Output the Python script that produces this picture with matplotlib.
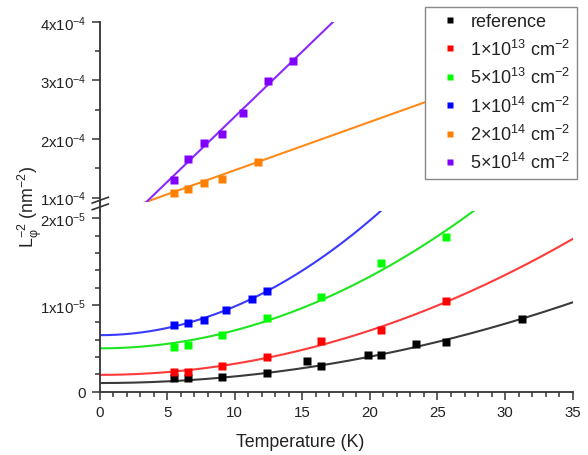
import numpy as np
import matplotlib
matplotlib.use("Agg")
import matplotlib.pyplot as plt
from matplotlib.lines import Line2D

plt.rcParams['font.family'] = ['Liberation Sans', 'DejaVu Sans']
plt.rcParams['mathtext.fontset'] = 'custom'
plt.rcParams['mathtext.rm'] = 'Liberation Sans'
plt.rcParams['mathtext.it'] = 'Liberation Sans:italic'
plt.rcParams['mathtext.bf'] = 'Liberation Sans:bold'
plt.rcParams['mathtext.default'] = 'regular'

# ---------------- data ----------------
labels = ['reference', '1×10$^{13}$ cm$^{-2}$', '5×10$^{13}$ cm$^{-2}$',
          '1×10$^{14}$ cm$^{-2}$', '2×10$^{14}$ cm$^{-2}$', '5×10$^{14}$ cm$^{-2}$']
marker_colors = ['#000000', '#ff0000', '#00ff00', '#0000ff', '#ff8000', '#8000ff']
line_colors = ['#3a3a3a', '#ff3a3a', '#1ee61e', '#3a3aff', '#ff8a1a', '#8a2aff']

T_ref = [5.51, 6.57, 9.08, 12.41, 15.35, 16.36, 19.88, 20.82, 23.41, 25.63, 31.23]
y_ref = [1.56e-6, 1.56e-6, 1.71e-6, 2.21e-6, 3.52e-6, 2.97e-6, 4.21e-6, 4.21e-6,
         5.51e-6, 5.74e-6, 8.44e-6]

T_1e13 = [5.51, 6.57, 9.08, 12.41, 16.36, 20.82, 25.63]
y_1e13 = [2.28e-6, 2.28e-6, 2.91e-6, 4.06e-6, 5.80e-6, 7.09e-6, 10.47e-6]

T_5e13 = [5.51, 6.57, 9.08, 12.41, 16.36, 20.82, 25.63]
y_5e13 = [5.17e-6, 5.36e-6, 6.55e-6, 8.48e-6, 10.9e-6, 14.82e-6, 17.9e-6]

T_1e14 = [5.51, 6.57, 7.73, 9.33, 11.26, 12.41]
y_1e14 = [7.64e-6, 7.98e-6, 8.28e-6, 9.43e-6, 10.67e-6, 11.67e-6]

T_2e14 = [5.51, 6.57, 7.73, 9.08, 11.70]
y_2e14 = [1.08e-4, 1.148e-4, 1.25e-4, 1.319e-4, 1.614e-4]

T_5e14 = [5.51, 6.57, 7.73, 9.08, 10.64, 12.44, 14.33]
y_5e14 = [1.307e-4, 1.66e-4, 1.932e-4, 2.086e-4, 2.444e-4, 2.994e-4, 3.325e-4]

# fit curves: y = a + b*T^2 (lower panel), y = a + b*T (upper panel)
quad_a = [1.00e-6, 1.94e-6, 5.00e-6, 6.52e-6]
quad_b = [7.6e-9, 1.28e-8, 2.07e-8, 3.31e-8]
lin_a = [0.644e-4, 0.156e-4]
lin_b = [8.24e-6, 2.223e-5]

x_ticks = [0, 5, 10, 15, 20, 25, 30, 35]
low_ticks = [0, 1e-5, 2e-5]
low_ticklabels = ['0', '1x10$^{-5}$', '2x10$^{-5}$']
up_ticks = [1e-4, 2e-4, 3e-4, 4e-4]
up_ticklabels = ['1x10$^{-4}$', '2x10$^{-4}$', '3x10$^{-4}$', '4x10$^{-4}$']

# ---------------- figure ----------------
W, H = 588, 456
fig = plt.figure(figsize=(W / 100, H / 100), dpi=100)

def fx(px):
    return px / W

def fy(py):
    return 1 - py / H

x0, x1 = 99.5, 572.7
ax_low = fig.add_axes([fx(x0), fy(392.7), fx(x1) - fx(x0), fy(211.7) - fy(392.7)])
ax_up = fig.add_axes([fx(x0), fy(202.7), fx(x1) - fx(x0), fy(22.7) - fy(202.7)])

T = np.linspace(0, 35, 400)
lw = 1.5
ms = 5.8

low_sets = [(T_ref, y_ref), (T_1e13, y_1e13), (T_5e13, y_5e13), (T_1e14, y_1e14)]
for i, (tx, ty) in enumerate(low_sets):
    ax_low.plot(T, np.array(quad_a[i]) + quad_b[i] * T ** 2, color=line_colors[i], lw=lw, zorder=2)
    ax_low.plot(tx, ty, 's', color=marker_colors[i], ms=ms, mec='none', zorder=3)

up_sets = [(T_2e14, y_2e14), (T_5e14, y_5e14)]
for j, (tx, ty) in enumerate(up_sets):
    i = j + 4
    ax_up.plot(T, lin_a[j] + lin_b[j] * T, color=line_colors[i], lw=lw, zorder=2)
    ax_up.plot(tx, ty, 's', color=marker_colors[i], ms=ms, mec='none', zorder=3)

ax_low.set_xlim(0, 35)
ax_up.set_xlim(0, 35)
ax_low.set_ylim(0, 2.088e-5)
ax_up.set_ylim(0.9318e-4, 4e-4)

spine_col = '#333333'
for ax in (ax_low, ax_up):
    for s in ('top', 'right'):
        ax.spines[s].set_visible(False)
    for s in ('left', 'bottom'):
        ax.spines[s].set_color(spine_col)
        ax.spines[s].set_linewidth(1.3)
    ax.tick_params(which='both', direction='out', color=spine_col, width=1.1,
                   labelsize=10.8, labelcolor='#222222')
    ax.tick_params(which='major', length=6)
    ax.tick_params(which='minor', length=3.5)
    ax.patch.set_alpha(0)

ax_up.spines['bottom'].set_visible(False)
ax_up.tick_params(axis='x', which='both', bottom=False, labelbottom=False)

ax_low.set_xticks(x_ticks)
ax_low.set_xticks(np.arange(0, 35.01, 1), minor=True)
ax_low.set_yticks(low_ticks)
ax_low.set_yticklabels(low_ticklabels)
ax_low.set_yticks(np.arange(0, 2.01e-5, 2e-6), minor=True)
ax_up.set_yticks(up_ticks)
ax_up.set_yticklabels(up_ticklabels)
ax_up.set_yticks([1.5e-4, 2.5e-4, 3.5e-4], minor=True)

# continuous spine through the break + break marks
fig.add_artist(Line2D([fx(x0 + 0.5), fx(x0 + 0.5)], [fy(211.7), fy(202.7)],
                      color=spine_col, lw=1.3, transform=fig.transFigure))
for (ya, yb) in [(204.0, 198.3), (210.7, 205.0)]:
    fig.add_artist(Line2D([fx(92.3), fx(108.3)], [fy(ya), fy(yb)],
                          color=spine_col, lw=1.2, transform=fig.transFigure))

# labels
fig.text(fx(300), fy(443), 'Temperature (K)', ha='center', va='center',
         fontsize=12.8, color='#222222')
fig.text(fx(30), fy(207), 'L$_{φ}^{-2}$ (nm$^{-2}$)', ha='center', va='center',
         rotation=90, fontsize=12.8, color='#222222')

# legend
handles = [Line2D([], [], marker='s', ls='none', color=c, ms=4.5, mec='none')
           for c in marker_colors]
leg = fig.legend(handles, labels, loc='upper right',
                 bbox_to_anchor=(fx(577), fy(8)), borderaxespad=0,
                 fontsize=13, frameon=True, fancybox=False, framealpha=1,
                 edgecolor='#888888', labelspacing=0.46, handlelength=2.05,
                 handletextpad=0.12, borderpad=0.35)
leg.get_frame().set_linewidth(1.0)
for t in leg.get_texts():
    t.set_color('#222222')

fig.savefig('out.png', dpi=100)
